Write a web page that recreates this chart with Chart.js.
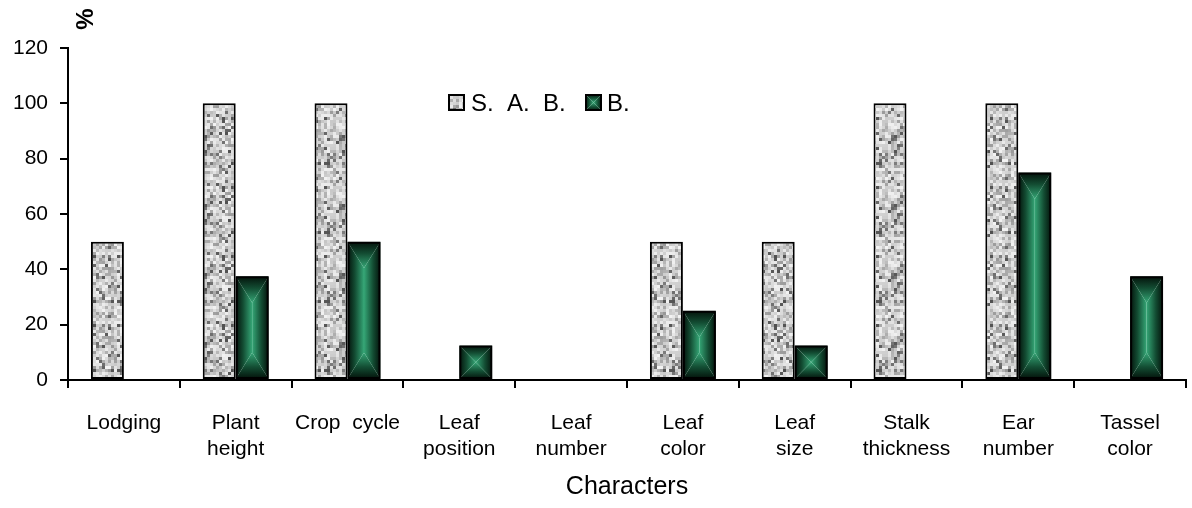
<!DOCTYPE html>
<html>
<head>
<meta charset="utf-8">
<script src="https://cdn.jsdelivr.net/npm/chart.js"></script>
<style>
  html, body { margin: 0; padding: 0; background: #fff; }
  #wrap { width: 1192px; height: 508px; }
</style>
</head>
<body>
<div id="wrap"><canvas id="myChart" width="1192" height="508"></canvas></div>
<script>
// data
var categories = ['Lodging', ['Plant', 'height'], 'Crop  cycle', ['Leaf', 'position'], ['Leaf', 'number'],
  ['Leaf', 'color'], ['Leaf', 'size'], ['Stalk', 'thickness'], ['Ear', 'number'], ['Tassel', 'color']];
var seriesNames = ['S.  A.  B.', 'B.'];
var sabValues = [50, 100, 100, 0, 0, 50, 50, 100, 100, 0];
var bValues = [0, 37.5, 50, 12.5, 0, 25, 12.5, 0, 75, 37.5];
var yTicks = [0, 20, 40, 60, 80, 100, 120];
var xTitle = 'Characters';
var yTitle = '%';

var FONT = "'Liberation Sans', Arial, sans-serif";

var canvas = document.getElementById('myChart');
var ctx = canvas.getContext('2d');

// grey "granite" fill, fixed seed so it is the same every run
function granitePattern() {
  var tile = document.createElement('canvas');
  tile.width = 69; tile.height = 69;
  var g = tile.getContext('2d');
  var s = 20240611;
  function rnd() { s = (s * 16807) % 2147483647; return s / 2147483647; }
  for (var y = 0; y < 69; y += 3) {
    for (var x = 0; x < 69; x += 3) {
      var r = rnd(), v;
      if (r < 0.12) v = 80 + rnd() * 50;
      else if (r < 0.36) v = 150 + rnd() * 40;
      else v = 198 + rnd() * 45;
      v = v | 0;
      g.fillStyle = 'rgb(' + v + ',' + v + ',' + v + ')';
      g.fillRect(x, y, 3, 3);
    }
  }
  return ctx.createPattern(tile, 'repeat');
}
var granite = granitePattern();

// green "from centre" rectangle gradient
function rectGrad(c, L, T, R, B) {
  var w = R - L, h = B - T;
  if (w <= 0 || h <= 0) return;
  var dx = w / 2;
  var dy = Math.min(h / 2, w * 0.8);
  var stops = [[0, '#03110a'], [0.45, '#134d33'], [1, '#35a676']];
  function lin(x0, y0, x1, y1) {
    var gr = c.createLinearGradient(x0, y0, x1, y1);
    stops.forEach(function (st) { gr.addColorStop(st[0], st[1]); });
    return gr;
  }
  function poly(pts, fill) {
    c.beginPath();
    pts.forEach(function (p, i) { if (i) c.lineTo(p[0], p[1]); else c.moveTo(p[0], p[1]); });
    c.closePath();
    c.fillStyle = fill;
    c.fill();
  }
  poly([[L, T], [L + dx, T + dy], [L + dx, B - dy], [L, B]], lin(L, 0, L + dx, 0));
  poly([[R, T], [R - dx, T + dy], [R - dx, B - dy], [R, B]], lin(R, 0, R - dx, 0));
  poly([[L, T], [R, T], [R - dx, T + dy], [L + dx, T + dy]], lin(0, T, 0, T + dy));
  poly([[L, B], [R, B], [R - dx, B - dy], [L + dx, B - dy]], lin(0, B, 0, B - dy));
}

var greenFill = {
  id: 'greenFill',
  beforeDatasetDraw: function (chart, args) {
    if (args.index !== 1) return;
    var c = chart.ctx;
    c.save();
    args.meta.data.forEach(function (bar) {
      var p = bar.getProps(['x', 'y', 'base', 'width'], true);
      var top = Math.min(p.y, p.base), bottom = Math.max(p.y, p.base);
      if (bottom - top < 0.5) return;
      rectGrad(c, p.x - p.width / 2, top, p.x + p.width / 2, bottom);
    });
    c.restore();
  }
};

var extras = {
  id: 'extras',
  afterDraw: function (chart) {
    var c = chart.ctx;
    c.save();
    // legend inside the plot
    c.font = '24px ' + FONT;
    c.textBaseline = 'alphabetic';
    c.fillStyle = granite;
    c.fillRect(448, 94, 17, 17);
    c.lineWidth = 2;
    c.strokeStyle = '#000';
    c.strokeRect(449, 95, 15, 15);
    c.fillStyle = '#000';
    c.fillText(seriesNames[0], 471, 111);
    rectGrad(c, 585, 94, 602, 111);
    c.strokeRect(586, 95, 15, 15);
    c.fillStyle = '#000';
    c.fillText(seriesNames[1], 607, 111);
    // "%" at the top of the y axis
    c.translate(86, 19);
    c.rotate(-Math.PI / 2);
    c.font = 'bold 24px ' + FONT;
    c.textAlign = 'center';
    c.textBaseline = 'middle';
    c.fillText(yTitle, 0, 0);
    c.restore();
  }
};

var myChart = new Chart(ctx, {
  type: 'bar',
  data: {
    labels: categories,
    datasets: [
      {
        label: seriesNames[0],
        data: sabValues,
        backgroundColor: granite,
        borderColor: '#000',
        borderWidth: 2,
        borderSkipped: false
      },
      {
        label: seriesNames[1],
        data: bValues,
        backgroundColor: 'rgba(0,0,0,0)',
        borderColor: '#000',
        borderWidth: 2,
        borderSkipped: false
      }
    ]
  },
  options: {
    responsive: false,
    animation: false,
    layout: { padding: { left: 0, top: 48, right: 6, bottom: 0 } },
    datasets: { bar: { categoryPercentage: 0.59, barPercentage: 1 } },
    plugins: {
      legend: { display: false },
      tooltip: { enabled: false }
    },
    scales: {
      x: {
        afterFit: function (scale) { scale.height = 128; },
        grid: { drawOnChartArea: false, drawTicks: true, tickLength: 8, color: '#000', lineWidth: 2, offset: true },
        border: { display: true, color: '#000', width: 2 },
        ticks: {
          color: '#000', autoSkip: false, maxRotation: 0, padding: 23,
          font: { family: FONT, size: 21, lineHeight: 1.2 }
        },
        title: {
          display: true, text: xTitle, color: '#000',
          font: { family: FONT, size: 25, lineHeight: 1.2 },
          padding: { top: 0, bottom: 6 }
        }
      },
      y: {
        min: 0,
        max: 120,
        afterFit: function (scale) { scale.width = 68; },
        afterBuildTicks: function (scale) { scale.ticks = yTicks.map(function (v) { return { value: v }; }); },
        grid: { drawOnChartArea: false, drawTicks: true, tickLength: 8, color: '#000', lineWidth: 2 },
        border: { display: true, color: '#000', width: 2 },
        ticks: {
          color: '#000', padding: 12,
          font: { family: FONT, size: 21 }
        }
      }
    }
  },
  plugins: [greenFill, extras]
});
</script>
</body>
</html>
